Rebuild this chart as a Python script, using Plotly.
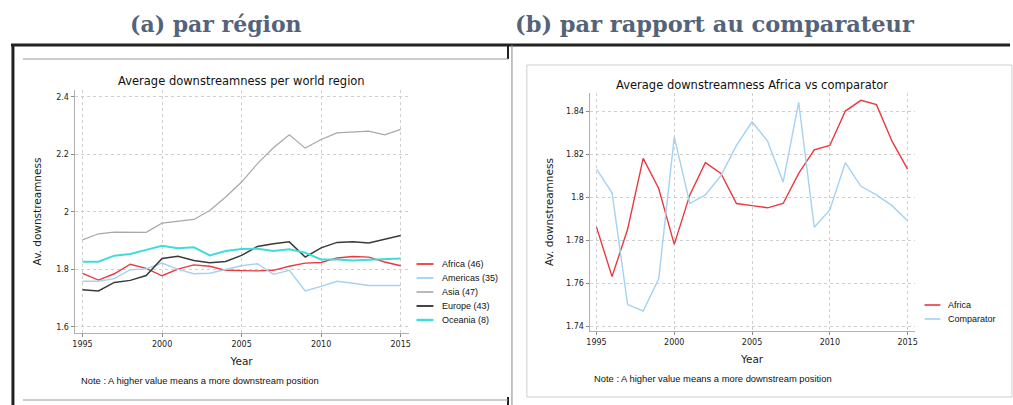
import plotly.graph_objects as go

W, H = 1013, 405

years = list(range(1995, 2016))

# panel (a): average downstreamness per world region
africa = [1.786, 1.763, 1.785, 1.818, 1.804, 1.778, 1.801, 1.816, 1.811, 1.797, 1.796,
          1.795, 1.797, 1.811, 1.822, 1.824, 1.840, 1.845, 1.843, 1.826, 1.813]
americas = [1.759, 1.759, 1.768, 1.799, 1.802, 1.822, 1.800, 1.785, 1.787, 1.800, 1.813,
            1.820, 1.783, 1.797, 1.725, 1.741, 1.759, 1.752, 1.744, 1.744, 1.744]
asia = [1.903, 1.924, 1.930, 1.929, 1.929, 1.961, 1.968, 1.974, 2.005, 2.052, 2.104,
        2.168, 2.223, 2.268, 2.222, 2.252, 2.275, 2.277, 2.281, 2.268, 2.287]
europe = [1.729, 1.725, 1.755, 1.762, 1.779, 1.838, 1.846, 1.831, 1.823, 1.828, 1.849,
          1.880, 1.889, 1.896, 1.843, 1.875, 1.894, 1.896, 1.892, 1.904, 1.918]
oceania = [1.827, 1.827, 1.848, 1.854, 1.868, 1.882, 1.874, 1.877, 1.849, 1.864, 1.871,
           1.872, 1.864, 1.870, 1.858, 1.835, 1.835, 1.831, 1.834, 1.836, 1.838]

# panel (b): Africa vs comparator
comparator = [1.813, 1.802, 1.750, 1.747, 1.762, 1.828, 1.797, 1.801, 1.810, 1.824, 1.835,
              1.826, 1.807, 1.844, 1.786, 1.794, 1.816, 1.805, 1.801, 1.796, 1.789]

region_names = ["Africa (46)", "Americas (35)", "Asia (47)", "Europe (43)", "Oceania (8)"]
region_values = [africa, americas, asia, europe, oceania]
region_colors = ["#e8393f", "#a3d2f2", "#a8a8a8", "#3a3a3a", "#40dcdc"]
region_widths = [1.4, 1.4, 1.2, 1.5, 2.0]

compare_names = ["Africa", "Comparator"]
compare_values = [africa, comparator]
compare_colors = ["#e8393f", "#a3d2f2"]

FONT = "DejaVu Sans"
SMALL = "Liberation Sans"


def px(x):
    return x / W


def py(y):
    return 1 - y / H


def note(fig, text, x, y, size, family=FONT, anchor="center", color="#111"):
    fig.add_annotation(text=text, x=px(x), y=py(y), xref="paper", yref="paper",
                       showarrow=False, xanchor=anchor, yanchor="middle",
                       font=dict(family=family, size=size, color=color))


fig = go.Figure()

for name, vals, col, lw in zip(region_names, region_values, region_colors, region_widths):
    fig.add_trace(go.Scatter(x=years, y=vals, mode="lines", name=name,
                             line=dict(color=col, width=lw), xaxis="x", yaxis="y"))

for name, vals, col in zip(compare_names, compare_values, compare_colors):
    fig.add_trace(go.Scatter(x=years, y=vals, mode="lines", name=name,
                             line=dict(color=col, width=1.4), xaxis="x2", yaxis="y2"))

axis_common = dict(
    showline=True, linecolor="#b0b0b0", linewidth=1,
    showgrid=True, gridcolor="#cfcfcf", griddash="dot", gridwidth=1,
    ticks="outside", ticklen=3, tickcolor="#888",
    tickfont=dict(family=FONT, size=8, color="#222"),
    zeroline=False,
)

fig.update_layout(
    width=W, height=H,
    margin=dict(l=0, r=0, t=0, b=0),
    paper_bgcolor="white", plot_bgcolor="white",
    showlegend=False,
    font=dict(family=FONT, color="#222"),
    xaxis=dict(domain=[px(72), px(408)], range=[1994.5, 2015.5], dtick=5, tick0=1995,
               anchor="y", title=dict(text="Year", font=dict(size=10.5), standoff=10),
               **axis_common),
    yaxis=dict(domain=[py(333), py(90)], range=[1.579, 2.424], dtick=0.2, tick0=1.6,
               anchor="x", title=dict(text="Av. downstreamness", font=dict(size=10.5), standoff=12),
               **axis_common),
    xaxis2=dict(domain=[px(590), px(917)], range=[1994.55, 2015.45], dtick=5, tick0=1995,
                anchor="y2", title=dict(text="Year", font=dict(size=10.5), standoff=10),
                **axis_common),
    yaxis2=dict(domain=[py(331), py(93)], range=[1.7377, 1.8484], dtick=0.02, tick0=1.74,
                anchor="x2", title=dict(text="Av. downstreamness", font=dict(size=10.5), standoff=10),
                **axis_common),
)

# panel headings
note(fig, "<b>(a) par région</b>", 214, 24, 22, family="DejaVu Serif", color="#536379")
note(fig, "<b>(b) par rapport au comparateur</b>", 716, 24, 22.5, family="DejaVu Serif", color="#536379")

# chart titles
note(fig, "Average downstreamness per world region", 240, 81, 11.5)
note(fig, "Average downstreamness Africa vs comparator", 753, 85, 11.5)

# notes
note(fig, "Note : A higher value means a more downstream position", 76, 380, 9.4, family=SMALL, anchor="left")
note(fig, "Note : A higher value means a more downstream position", 593, 378, 9.4, family=SMALL, anchor="left")

shapes = []

# legends drawn by hand (plotly's minimum legend row height is too tall)
for i, (name, col, lw) in enumerate(zip(region_names, region_colors, region_widths)):
    yy = 264 + 14 * i
    shapes.append(dict(type="line", x0=px(416), x1=px(433), y0=py(yy), y1=py(yy),
                       line=dict(color=col, width=lw + 0.4)))
    note(fig, name, 440, yy, 9, family=SMALL, anchor="left")
for i, (name, col) in enumerate(zip(compare_names, compare_colors)):
    yy = 305 + 14 * i
    shapes.append(dict(type="line", x0=px(927), x1=px(943), y0=py(yy), y1=py(yy),
                       line=dict(color=col, width=1.6)))
    note(fig, name, 949, yy, 9, family=SMALL, anchor="left")

# frames around the panels
shapes += [
    dict(type="line", x0=px(8), x1=px(1013), y0=py(45), y1=py(45), line=dict(color="#222", width=3)),
    dict(type="line", x0=px(10), x1=px(10), y0=py(45), y1=py(405), line=dict(color="#222", width=3)),
    dict(type="line", x0=px(508), x1=px(508), y0=py(45), y1=py(59), line=dict(color="#222", width=2)),
    dict(type="line", x0=px(508), x1=px(508), y0=py(397), y1=py(405), line=dict(color="#222", width=2)),
    dict(type="line", x0=px(20), x1=px(508), y0=py(59), y1=py(59), line=dict(color="#999", width=1)),
    dict(type="line", x0=px(20), x1=px(508), y0=py(400), y1=py(400), line=dict(color="#999", width=1)),
    dict(type="line", x0=px(512), x1=px(512), y0=py(45), y1=py(405), line=dict(color="#888", width=1)),
    dict(type="rect", x0=px(527), x1=px(1015), y0=py(397), y1=py(65), line=dict(color="#cfcfcf", width=1)),
]
for s in shapes:
    s.update(xref="paper", yref="paper")
    fig.add_shape(**s)

fig.write_html("out.html", config={"displayModeBar": False},
               post_script="document.body.style.margin='0';document.body.style.overflow='hidden';")
